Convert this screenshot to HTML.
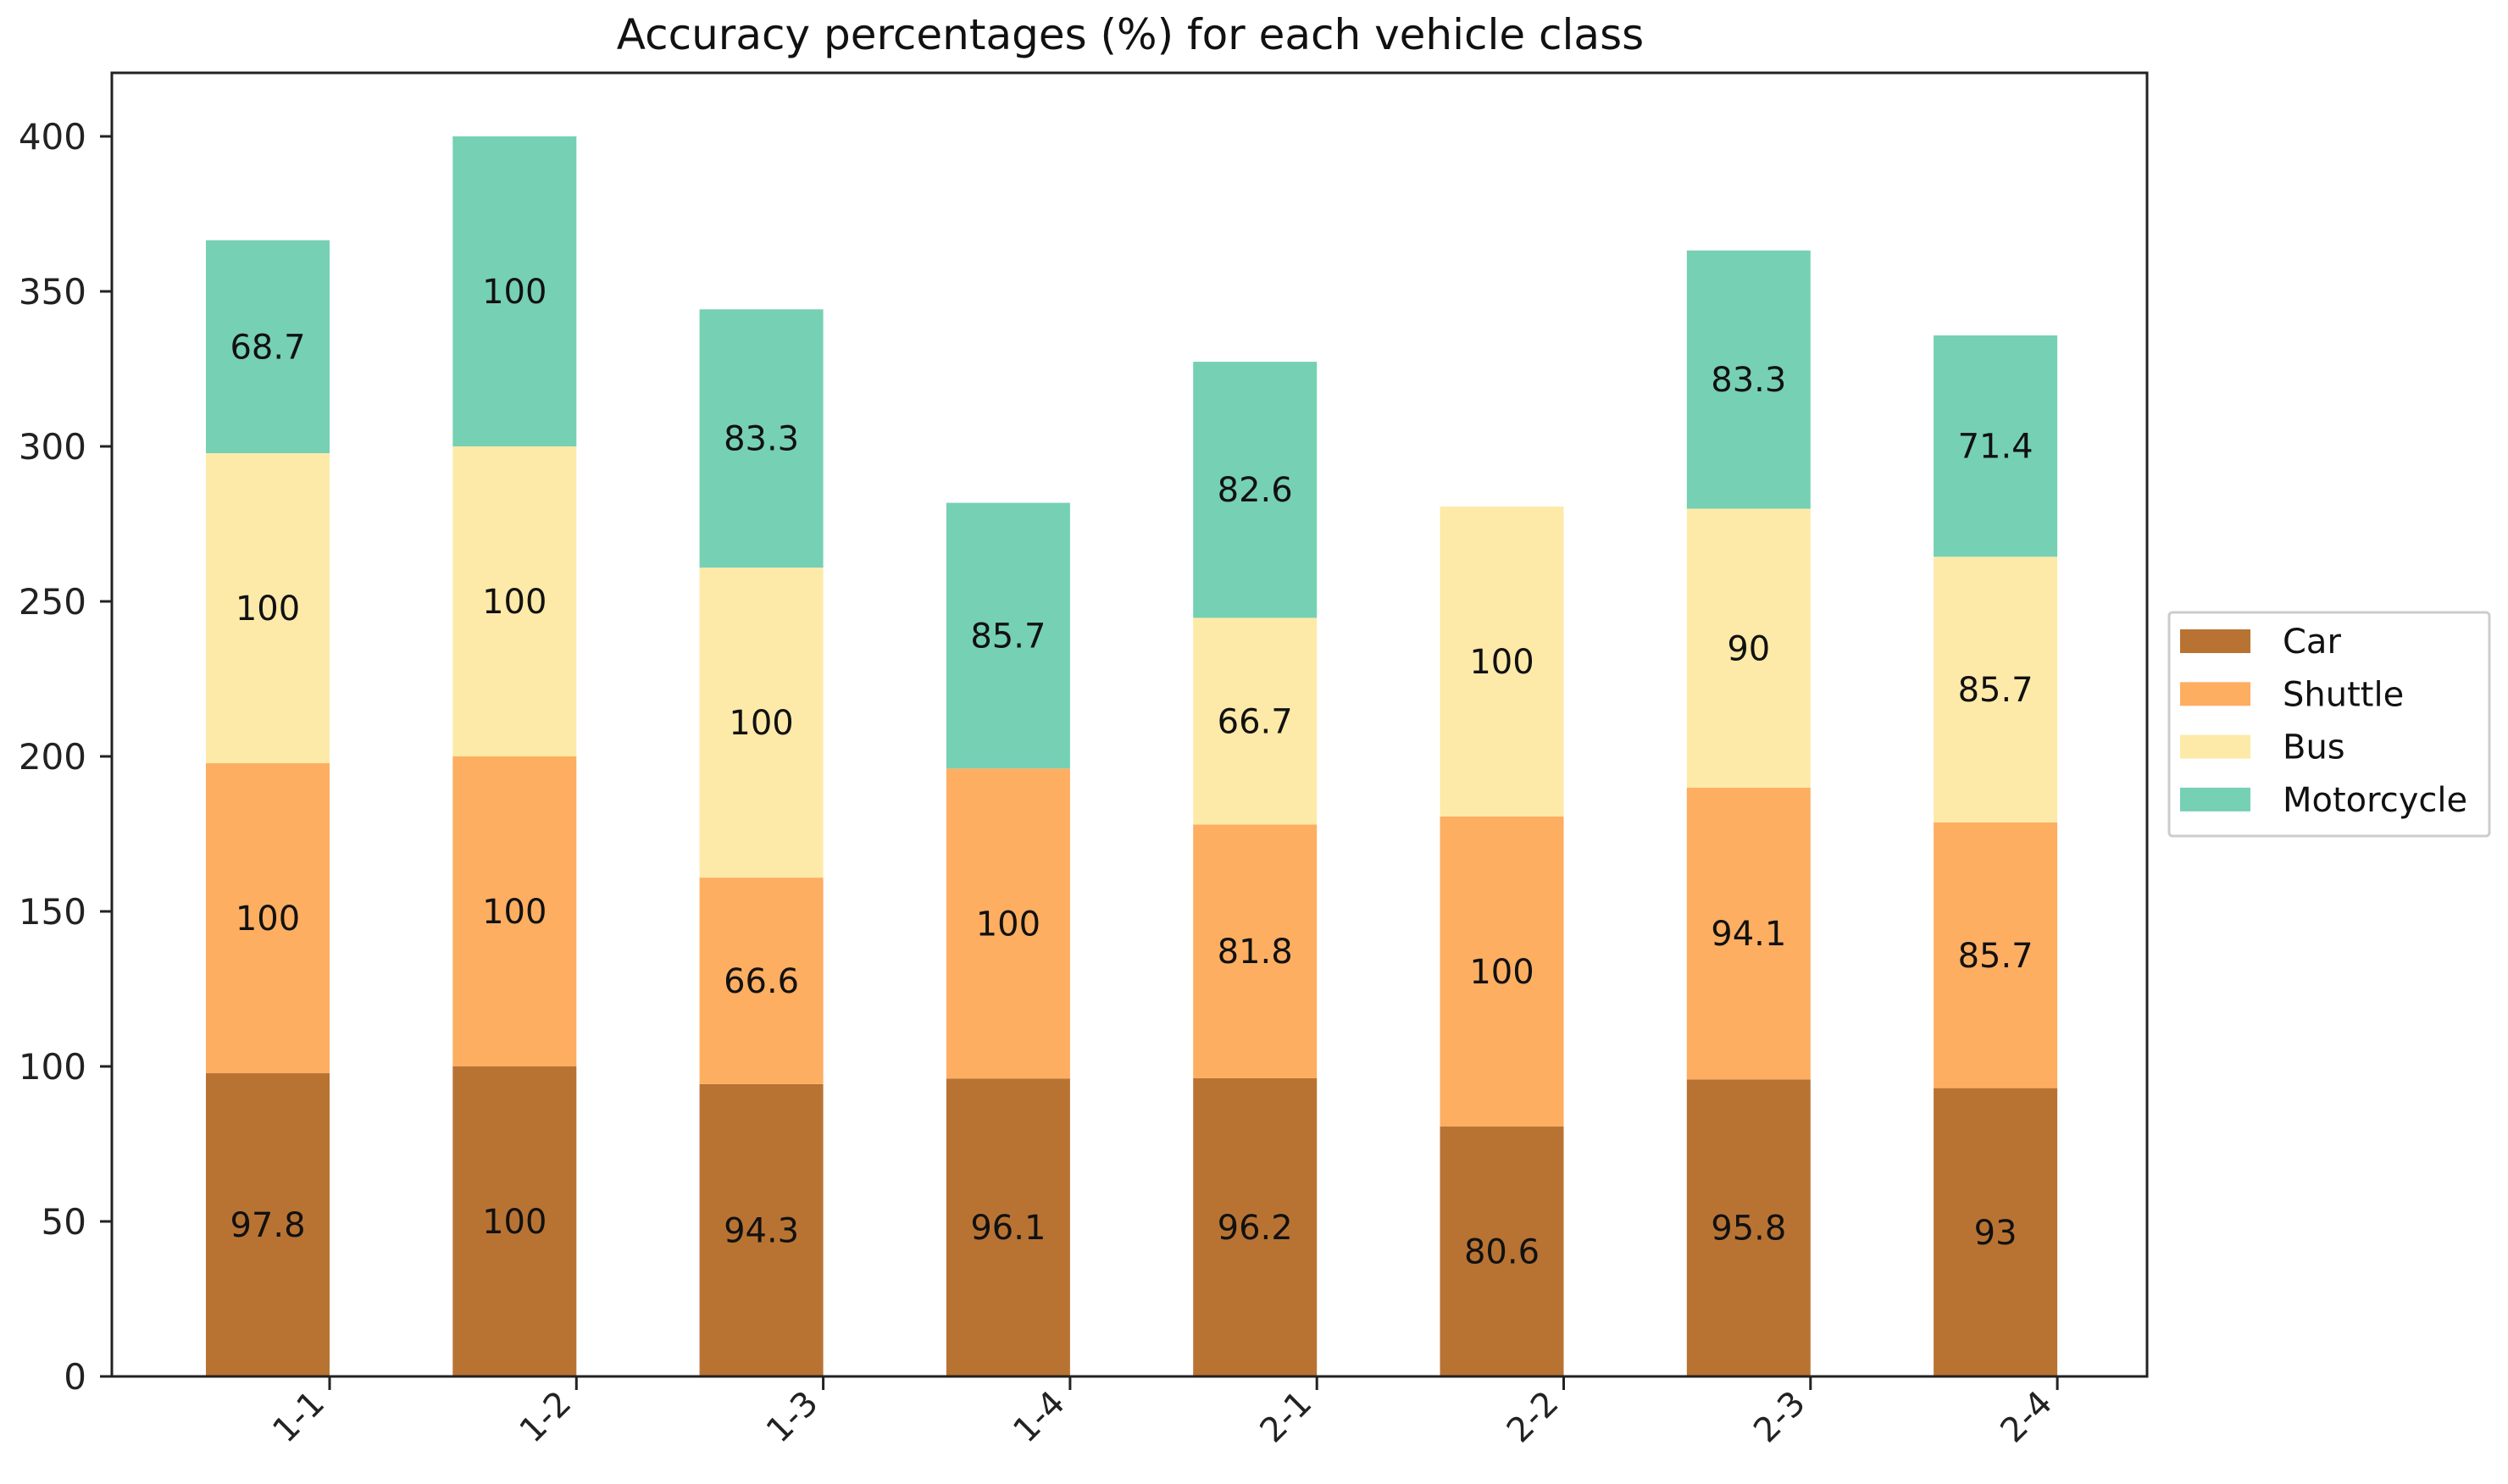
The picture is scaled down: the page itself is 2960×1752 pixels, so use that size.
<!DOCTYPE html>
<html><head><meta charset="utf-8"><style>
html,body{margin:0;padding:0;background:#fff;}
svg{display:block;font-family:"DejaVu Sans","Liberation Sans",sans-serif;}
</style></head><body>
<svg id="chart" width="2960" height="1752" viewBox="0 0 2960 1752" xmlns="http://www.w3.org/2000/svg">
<text x="1334" y="58" font-size="50" text-anchor="middle" fill="#111">Accuracy percentages (%) for each vehicle class</text>
<g id="bars"></g>
<g id="axes"></g>
<g id="legend"></g>
</svg>
<script>
const categories = ["1-1","1-2","1-3","1-4","2-1","2-2","2-3","2-4"];
const seriesNames = ["Car","Shuttle","Bus","Motorcycle"];
const car = [97.8,100,94.3,96.1,96.2,80.6,95.8,93];
const shuttle = [100,100,66.6,100,81.8,100,94.1,85.7];
const bus = [100,100,100,0,66.7,100,90,85.7];
const motorcycle = [68.7,100,83.3,85.7,82.6,0,83.3,71.4];
const yTicks = [0,50,100,150,200,250,300,350,400];

const NS="http://www.w3.org/2000/svg";
const colors=["#b87333","#fdae61","#feeaa8","#76d0b4"];
const series=[car,shuttle,bus,motorcycle];
const L=132,R=2534,T=86,B=1625;
const y=v=>B-v*3.66;
const x0=316,step=291.3,bw=146;
const xc=i=>x0+i*step;
function mk(tag,attrs,parent){const e=document.createElementNS(NS,tag);for(const k in attrs)e.setAttribute(k,attrs[k]);parent.appendChild(e);return e;}
const gb=document.getElementById('bars');
categories.forEach((c,i)=>{
  let base=0;
  series.forEach((s,j)=>{
    const v=s[i];
    if(v>0){
      const r=mk('rect',{x:xc(i)-bw/2,y:y(base+v),width:bw,height:y(base)-y(base+v),fill:colors[j]},gb);
      
      
      const t=mk('text',{x:xc(i),y:y(base+v/2)+14,'font-size':40,'text-anchor':'middle',fill:'#111'},gb);
      t.textContent=String(v);
      
      
    }
    base+=v;
  });
});
const ga=document.getElementById('axes');
const fr=mk('rect',{x:L,y:T,width:R-L,height:B-T,fill:'none',stroke:'#222','stroke-width':3},ga);


yTicks.forEach(v=>{
  mk('line',{x1:L-14,x2:L,y1:y(v),y2:y(v),stroke:'#222','stroke-width':3},ga);
  const t=mk('text',{x:L-30,y:y(v)+15,'font-size':42,'text-anchor':'end',fill:'#222'},ga);
  t.textContent=v;
  
  
});
categories.forEach((c,i)=>{
  const tx=xc(i)+bw/2;
  mk('line',{x1:tx,x2:tx,y1:B,y2:B+16,stroke:'#222','stroke-width':3},ga);
  const t=mk('text',{x:tx-4,y:B+34,'font-size':40,'text-anchor':'end',fill:'#222',transform:`rotate(-45 ${tx-4} ${B+34})`},ga);
  t.textContent=c;
  
  
});
const gl=document.getElementById('legend');
const lb=mk('rect',{x:2560,y:723,width:378,height:264,fill:'#fff',stroke:'#ccc','stroke-width':3,rx:4},gl);


seriesNames.forEach((n,j)=>{
  const cy=757+j*62.3;
  const p=mk('rect',{x:2573,y:cy-14,width:83,height:28,fill:colors[j]},gl);
  
  
  const t=mk('text',{x:2694,y:cy+14,'font-size':40,fill:'#111'},gl);
  t.textContent=n;
  
  
});
</script>
</body></html>
